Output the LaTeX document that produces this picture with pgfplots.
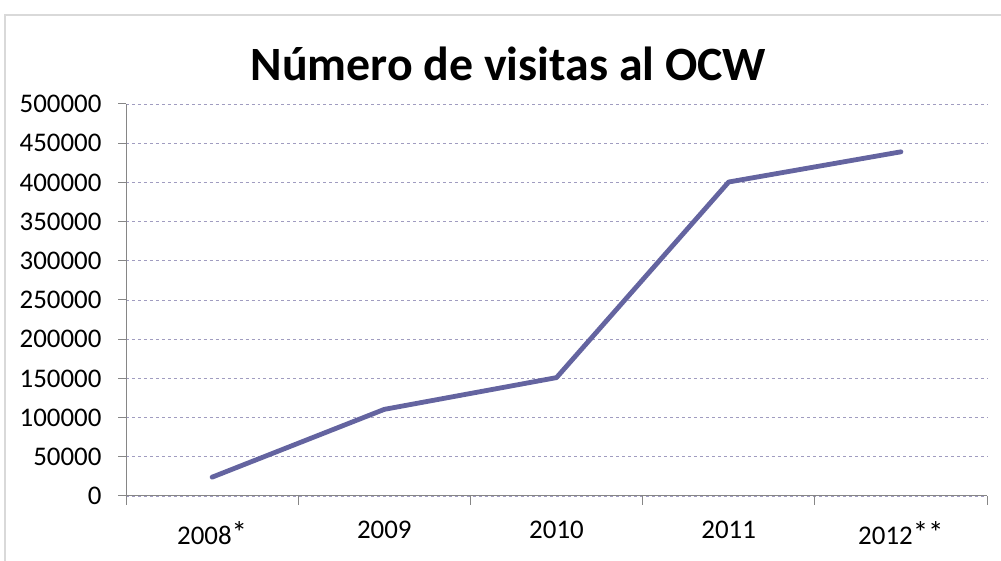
\documentclass[border=0pt]{standalone}
\usepackage{pgfplots}
\pgfplotsset{compat=1.18}
\usepackage{fontspec}
\setmainfont{Carlito}
\definecolor{linec}{RGB}{100,100,160}
\definecolor{gridc}{RGB}{160,156,192}
\definecolor{axisc}{RGB}{134,134,134}
\definecolor{framec}{RGB}{217,217,217}
\newcommand{\myast}{\raisebox{0.05em}{\scalebox{1.15}{*}}}
\begin{document}
\begin{tikzpicture}[x=1bp,y=1bp]
\useasboundingbox (0,0) rectangle (1001,561);
\begin{scope}
\clip (0,0) rectangle (1001,561);
\draw[framec,line width=1.5bp] (5,546) rectangle (1020,-20);
\end{scope}
\node[font=\fontsize{48}{54}\selectfont\bfseries,anchor=base] at (508.5,480) {Número de visitas al OCW};
\begin{axis}[
  at={(126bp,65bp)}, anchor=south west,
  scale only axis, width=861bp, height=392bp,
  xmin=-0.5, xmax=4.5, ymin=0, ymax=500000,
  axis x line*=bottom, axis y line*=left,
  axis line style={axisc, line width=1bp},
  xtick={0,1,2,3,4},
  xticklabels={\mbox{2008\myast},\mbox{2009},\mbox{2010},\mbox{2011},\mbox{2012\myast\myast}},
  minor xtick={-0.5,0.5,1.5,2.5,3.5,4.5},
  ytick={0,50000,...,500000},
  tick align=outside,
  major tick length=8bp, minor tick length=9bp,
  x tick style={draw=none},
  minor x tick style={draw=axisc, line width=1bp},
  y tick style={axisc, line width=1bp},
  ymajorgrids,
  major grid style={gridc, dashed, line width=0.8bp},
  scaled y ticks=false,
  yticklabel={\pgfmathprintnumber[fixed,1000 sep={},assume math mode=true]{\tick}},
  ticklabel style={font=\fontsize{27}{30}\selectfont, text=black},
  yticklabel style={xshift=-13bp},
  xticklabel style={yshift=-14bp},
  clip=false,
]
\addplot[linec, line width=4.8bp, line join=round, line cap=round] coordinates {
  (0,24000) (1,110500) (2,151000) (3,400500) (4,439000)
};
\end{axis}
\end{tikzpicture}
\end{document}
